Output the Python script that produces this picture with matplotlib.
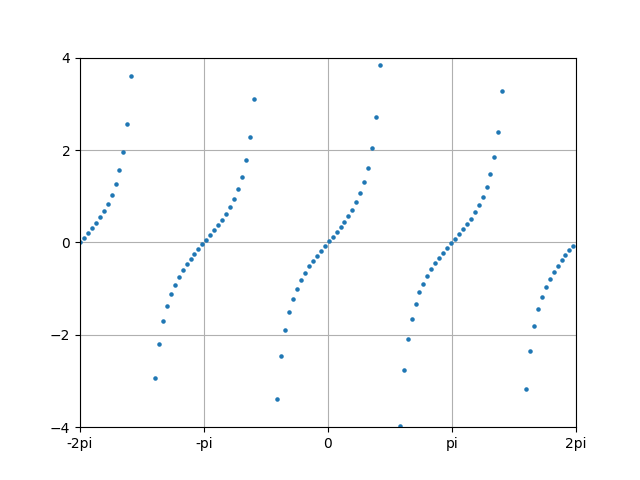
import numpy as np
import matplotlib
matplotlib.use('Agg')
import matplotlib.pyplot as plt

# sample points (x in radians, y = value)
x_vals = [-6.283, -6.183, -6.083, -5.983, -5.883, -5.783, -5.683, -5.583, -5.483, -5.383,
          -5.283, -5.183, -5.083, -4.983, -4.883, -4.783, -4.683, -4.583, -4.483, -4.383,
          -4.283, -4.183, -4.083, -3.983, -3.883, -3.783, -3.683, -3.583, -3.483, -3.383,
          -3.283, -3.183, -3.083, -2.983, -2.883, -2.783, -2.683, -2.583, -2.483, -2.383,
          -2.283, -2.183, -2.083, -1.983, -1.883, -1.783, -1.683, -1.583, -1.483, -1.383,
          -1.283, -1.183, -1.083, -0.983, -0.883, -0.783, -0.683, -0.583, -0.483, -0.383,
          -0.283, -0.183, -0.083, 0.017, 0.117, 0.217, 0.317, 0.417, 0.517, 0.617,
          0.717, 0.817, 0.917, 1.017, 1.117, 1.217, 1.317, 1.417, 1.517, 1.617,
          1.717, 1.817, 1.917, 2.017, 2.117, 2.217, 2.317, 2.417, 2.517, 2.617,
          2.717, 2.817, 2.917, 3.017, 3.117, 3.217, 3.317, 3.417, 3.517, 3.617,
          3.717, 3.817, 3.917, 4.017, 4.117, 4.217, 4.317, 4.417, 4.517, 4.617,
          4.717, 4.817, 4.917, 5.017, 5.117, 5.217, 5.317, 5.417, 5.517, 5.617,
          5.717, 5.817, 5.917, 6.017, 6.117, 6.217]

y_vals = [0.00, 0.10, 0.20, 0.31, 0.42, 0.55, 0.68, 0.84, 1.03, 1.26,
          1.56, 1.96, 2.57, 3.60, 5.80, 14.10, -34.23, -7.70, -4.29, -2.93,
          -2.19, -1.71, -1.37, -1.12, -0.92, -0.75, -0.60, -0.47, -0.36, -0.25,
          -0.14, -0.04, 0.06, 0.16, 0.26, 0.37, 0.49, 0.62, 0.77, 0.95,
          1.16, 1.42, 1.78, 2.29, 3.10, 4.64, 8.86, 80.70, -11.39, -5.27,
          -3.38, -2.45, -1.89, -1.50, -1.22, -1.00, -0.81, -0.66, -0.52, -0.40,
          -0.29, -0.19, -0.08, 0.02, 0.12, 0.22, 0.33, 0.44, 0.57, 0.71,
          0.87, 1.07, 1.30, 1.62, 2.05, 2.71, 3.85, 6.44, 18.50, -21.70,
          -6.80, -3.98, -2.77, -2.09, -1.65, -1.33, -1.08, -0.89, -0.72, -0.58,
          -0.45, -0.34, -0.23, -0.13, -0.02, 0.08, 0.18, 0.28, 0.39, 0.51,
          0.65, 0.80, 0.98, 1.20, 1.48, 1.85, 2.40, 3.28, 5.05, 10.43,
          -227.0, -9.55, -4.82, -3.18, -2.34, -1.81, -1.45, -1.18, -0.96, -0.79,
          -0.64, -0.50, -0.38, -0.27, -0.17, -0.07]

x_ticks = [-2 * np.pi, -np.pi, 0, np.pi, 2 * np.pi]
x_tick_labels = ['-2pi', '-pi', '0', 'pi', '2pi']
y_ticks = [-4, -2, 0, 2, 4]

fig = plt.figure(figsize=(6.4, 4.8), dpi=100)
ax = fig.gca()
ax.plot(x_vals, y_vals, '.', color='#1f77b4', markersize=4.5)
ax.set_xlim(-2 * np.pi, 2 * np.pi)
ax.set_ylim(-4, 4)
ax.set_xticks(x_ticks)
ax.set_xticklabels(x_tick_labels)
ax.set_yticks(y_ticks)
ax.grid(True)
plt.savefig('out.png', dpi=100)
